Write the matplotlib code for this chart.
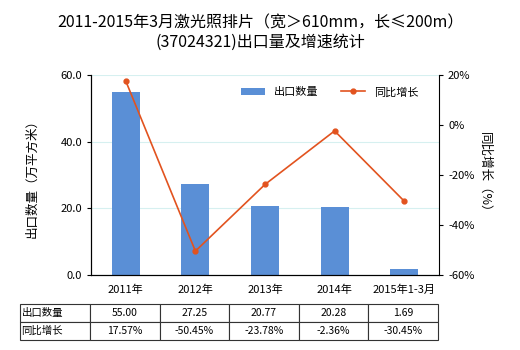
# -*- coding: utf-8 -*-
import matplotlib
matplotlib.use('Agg')
import matplotlib.pyplot as plt
import numpy as np

plt.rcParams['font.family'] = ['Noto Sans CJK SC', 'DejaVu Sans']
plt.rcParams['axes.unicode_minus'] = False

categories = ["2011年", "2012年", "2013年", "2014年", "2015年1-3月"]
export_qty = [55.00, 27.25, 20.77, 20.28, 1.69]
growth = [17.57, -50.45, -23.78, -2.36, -30.45]
qty_labels = ["55.00", "27.25", "20.77", "20.28", "1.69"]
growth_labels = ["17.57%", "-50.45%", "-23.78%", "-2.36%", "-30.45%"]

bar_color = "#5a8fd6"
line_color = "#e2531f"

fig = plt.figure(figsize=(5.2, 3.5), dpi=100)
ax1 = fig.add_axes([91 / 520, 75 / 350, 348 / 520, 200 / 350])
x = np.arange(len(categories))

ax1.bar(x, export_qty, width=0.4, color=bar_color, zorder=2, label="出口数量")
ax1.set_xlim(-0.5, len(categories) - 0.5)
ax1.set_ylim(0, 60)
ax1.set_yticks([0, 20, 40, 60])
ax1.set_yticklabels(["0.0", "20.0", "40.0", "60.0"])
ax1.grid(axis='y', color="#d6f0f0", linewidth=0.8, zorder=0)
ax1.set_xticks(x)
ax1.set_xticklabels(categories)
ax1.tick_params(axis='x', length=0, labelsize=8, pad=7)
ax1.tick_params(axis='y', length=3, labelsize=8)
ax1.set_ylabel("出口数量（万平方米）", fontsize=9, labelpad=16)
ax1.spines['top'].set_visible(False)
ax1.spines['right'].set_visible(False)

ax2 = ax1.twinx()
ax2.plot(x, growth, '-', color=line_color, linewidth=1.2, marker='o', markersize=3.5, label="同比增长", zorder=3)
ax2.set_ylim(-60, 20)
ax2.set_yticks([-60, -40, -20, 0, 20])
ax2.set_yticklabels(["%d%%" % v for v in [-60, -40, -20, 0, 20]])
ax2.tick_params(axis='y', length=3, labelsize=8)
ax2.set_ylabel("同比增长（%）", fontsize=9, rotation=270, labelpad=12)
ax2.spines['top'].set_visible(False)

h1, l1 = ax1.get_legend_handles_labels()
h2, l2 = ax2.get_legend_handles_labels()
ax2.legend(h1 + h2, l1 + l2, loc='upper right', bbox_to_anchor=(0.97, 0.99), ncol=2,
           frameon=False, fontsize=8, handlelength=2.2, columnspacing=2.0)

fig.suptitle("2011-2015年3月激光照排片（宽＞610mm，长≤200m）\n(37024321)出口量及增速统计",
             fontsize=11.5, y=0.96, linespacing=1.25)

cell_text = [["出口数量"] + qty_labels, ["同比增长"] + growth_labels]
tbl = ax1.table(cellText=cell_text, cellLoc='center',
                bbox=[(20 - 91) / 348, (275 - 340) / 200, (438 - 20) / 348, 36 / 200],
                colWidths=[70] + [69.6] * 5)
tbl.auto_set_font_size(False)
tbl.set_fontsize(7.5)
for (r, c), cell in tbl.get_celld().items():
    cell.set_linewidth(0.8)
    cell.set_edgecolor("#333333")
    if c == 0:
        cell.set_text_props(ha='left')
        cell._loc = 'left'
        cell.PAD = 0.02

plt.savefig("out.png", dpi=100)
